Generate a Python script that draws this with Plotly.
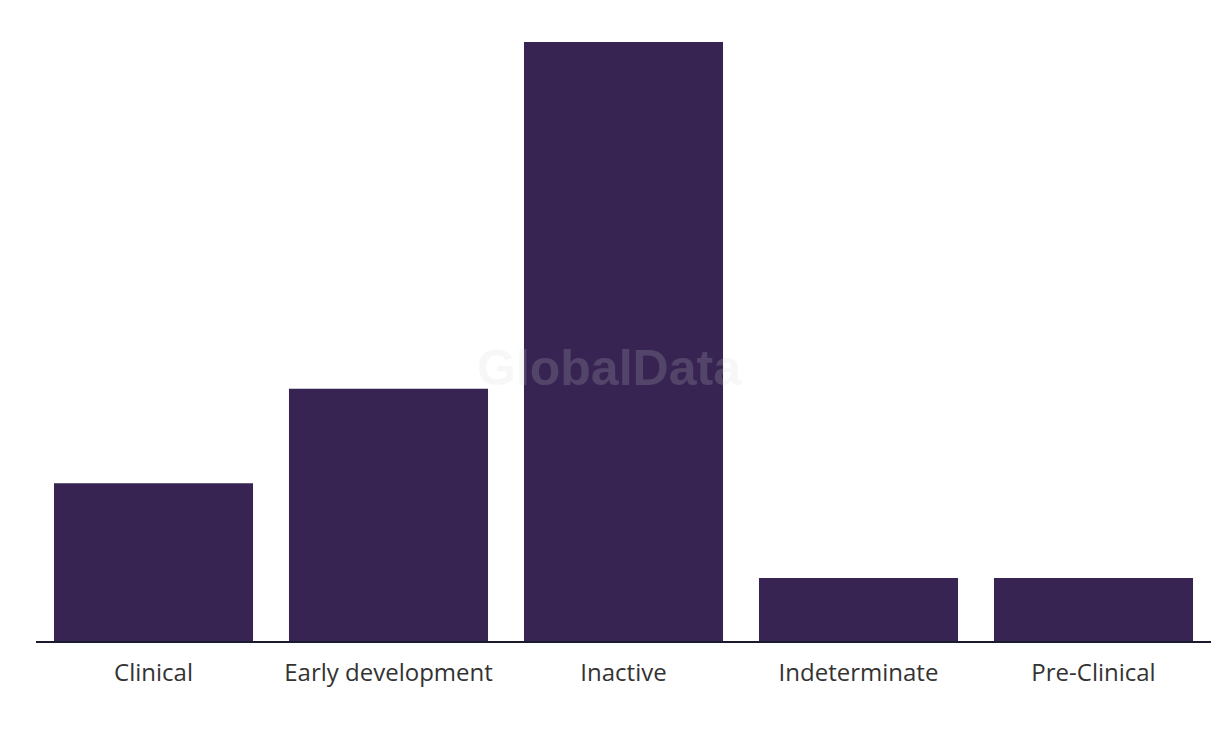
import plotly.graph_objects as go

categories = ["Clinical", "Early development", "Inactive", "Indeterminate", "Pre-Clinical"]
values = [5, 8, 19, 2, 2]

fig = go.Figure(go.Bar(x=categories, y=values, marker=dict(color="#372452", line=dict(width=0)),
                       hoverinfo="x+y"))

fig.update_layout(
    width=1220, height=736,
    margin=dict(l=36, r=9, t=42, b=95),
    paper_bgcolor="white", plot_bgcolor="white",
    bargap=0.153,
    showlegend=False,
    font=dict(family="Open Sans, Arial, sans-serif", size=20, color="#333333"),
    xaxis=dict(showline=True, linecolor="#1a1a2e", linewidth=2, showgrid=False,
               ticks="outside", ticklen=9, tickcolor="rgba(0,0,0,0)",
               tickfont=dict(family="Open Sans, Arial, sans-serif", size=24, color="#333333")),
    yaxis=dict(range=[0, 19], visible=False, showgrid=False, zeroline=False),
    annotations=[dict(text="<b>GlobalData</b>", x=0.4885, y=0.456, xref="paper", yref="paper",
                      showarrow=False, font=dict(family="Arial, sans-serif", size=50,
                                                 color="rgba(212,212,212,0.185)"))],
)

fig.write_html("out.html")
